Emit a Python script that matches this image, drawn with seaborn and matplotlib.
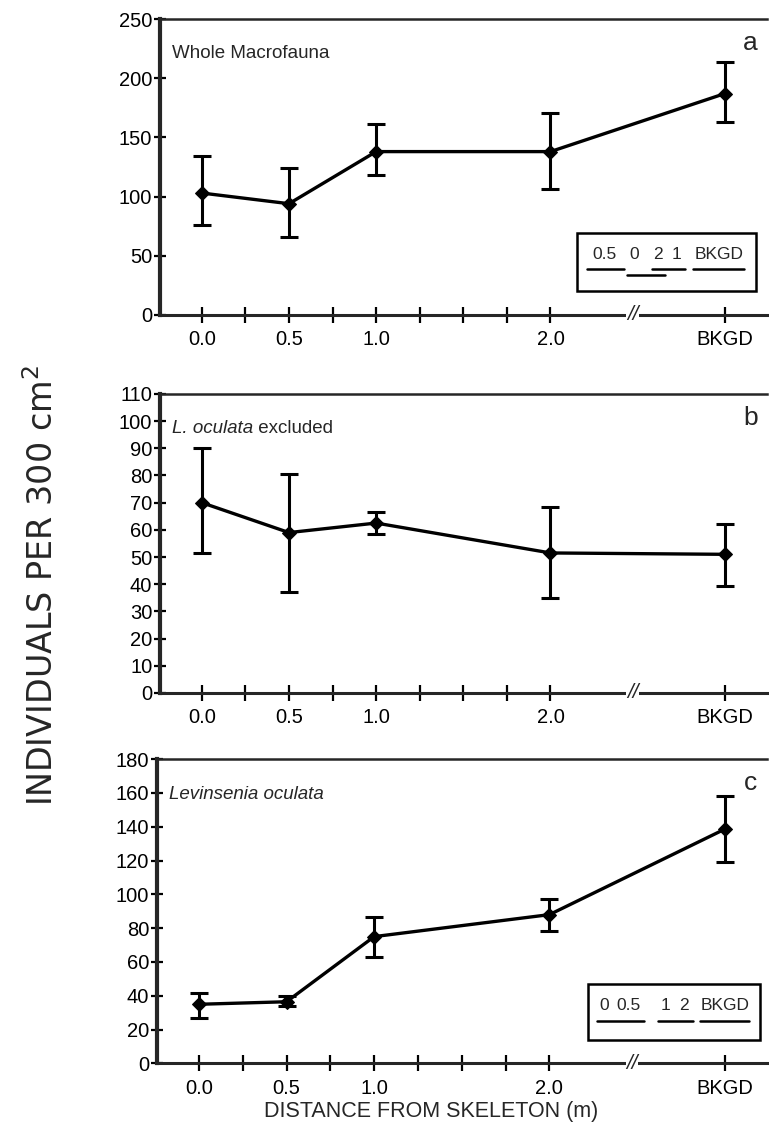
import matplotlib
matplotlib.use("Agg")
import matplotlib.pyplot as plt
import seaborn as sns
import pandas as pd
from matplotlib.patches import Rectangle

# x positions (BKGD placed after an axis break) and labels
x_pos = [0.0, 0.5, 1.0, 2.0, 3.0]
x_labels = ['0.0', '0.5', '1.0', '2.0', 'BKGD']
minor_pos = [0.25, 0.75, 1.25, 1.5, 1.75]

# panel a: whole macrofauna
whole_mean = [103, 94, 138, 138, 187]
whole_upper = [134, 124, 161, 171, 214]
whole_lower = [76, 66, 118, 106, 163]

# panel b: L. oculata excluded
excl_mean = [70, 59, 62.5, 51.5, 51]
excl_upper = [90, 80.5, 66.5, 68.5, 62]
excl_lower = [51.5, 37, 58.5, 35, 39.5]

# panel c: Levinsenia oculata
levin_mean = [35, 36.5, 75, 88, 138.5]
levin_upper = [41.5, 40, 86.5, 97.5, 158]
levin_lower = [27, 34, 63, 78.5, 119]

sns.set_style("ticks")
plt.rcParams['font.family'] = ['Liberation Sans', 'DejaVu Sans']

fig = plt.figure(figsize=(7.69, 11.31), dpi=100)

panels = [
    dict(mean=whole_mean, up=whole_upper, lo=whole_lower, ylim=250, step=50,
         title="Whole Macrofauna", italic=None, letter="a",
         rect=[0.208, 0.7215, 0.789, 0.2617]),
    dict(mean=excl_mean, up=excl_upper, lo=excl_lower, ylim=110, step=10,
         title=" excluded", italic="L. oculata", letter="b",
         rect=[0.208, 0.3873, 0.789, 0.2644]),
    dict(mean=levin_mean, up=levin_upper, lo=levin_lower, ylim=180, step=20,
         title=None, italic="Levinsenia oculata", letter="c",
         rect=[0.204, 0.0597, 0.793, 0.2692]),
]

axes = []
for p in panels:
    ax = fig.add_axes(p['rect'])
    axes.append(ax)
    df = pd.DataFrame({'x': x_pos, 'y': p['mean']})
    yerr = [[m - l for m, l in zip(p['mean'], p['lo'])],
            [u - m for m, u in zip(p['mean'], p['up'])]]
    ax.errorbar(x_pos, p['mean'], yerr=yerr, fmt='none', ecolor='black',
                elinewidth=2.2, capsize=6.5, capthick=2.2, zorder=2)
    sns.lineplot(data=df, x='x', y='y', ax=ax, color='black', linewidth=2.4,
                 marker='D', markersize=7, markeredgecolor='black', zorder=3)

    ax.set_xlim(-0.24, 3.24)
    ax.set_ylim(0, p['ylim'])
    ax.set_yticks(range(0, p['ylim'] + 1, p['step']))
    ax.set_xticks(x_pos)
    ax.set_xticklabels(x_labels)
    ax.set_xticks(minor_pos, minor=True)
    ax.set_xlabel("")
    ax.set_ylabel("")
    ax.tick_params(axis='both', which='both', direction='inout', width=1.6,
                   colors='black', labelsize=14.5)
    ax.tick_params(axis='x', which='both', length=12, pad=5)
    ax.tick_params(axis='y', which='both', length=9, pad=1)

    ax.spines['right'].set_visible(False)
    ax.spines['left'].set_linewidth(3)
    ax.spines['bottom'].set_linewidth(2.2)
    ax.spines['top'].set_linewidth(1.8)

    # axis break mark
    ax.text(2.47, 0, "//", transform=ax.transData, ha='center', va='center',
            fontsize=15, style='italic',
            bbox=dict(facecolor='white', edgecolor='none', pad=0.3))

    # panel titles
    tx, ty = 0.02, 0.885
    if p['italic'] and p['title']:
        t = ax.text(tx, ty, p['italic'], transform=ax.transAxes,
                    fontsize=13.5, style='italic', va='center')
        fig.canvas.draw()
        bb = t.get_window_extent().transformed(ax.transAxes.inverted())
        ax.text(bb.x1, ty, p['title'], transform=ax.transAxes,
                fontsize=13.5, va='center')
    elif p['italic']:
        ax.text(tx, ty, p['italic'], transform=ax.transAxes,
                fontsize=13.5, style='italic', va='center')
    else:
        ax.text(tx, ty, p['title'], transform=ax.transAxes,
                fontsize=13.5, va='center')
    ax.text(0.985, 0.92, p['letter'], transform=ax.transAxes,
            fontsize=19, ha='right', va='center')

# multiple-comparison insets
ax = axes[0]
ax.add_patch(Rectangle((2.15, 20), 1.03, 49, fill=False, edgecolor='black',
                       linewidth=1.8, zorder=4))
for lab, xc in [('0.5', 2.31), ('0', 2.48), ('2', 2.615), ('1', 2.725), ('BKGD', 2.965)]:
    ax.text(xc, 51, lab, ha='center', va='center', fontsize=12.5)
for x0, x1, yy in [(2.21, 2.42, 38.5), (2.58, 2.77, 38.5), (2.82, 3.11, 38.5), (2.44, 2.655, 33.5)]:
    ax.plot([x0, x1], [yy, yy], color='black', linewidth=1.8)

ax = axes[2]
ax.add_patch(Rectangle((2.22, 14), 0.98, 33, fill=False, edgecolor='black',
                       linewidth=1.8, zorder=4))
for lab, xc in [('0', 2.31), ('0.5', 2.45), ('1', 2.66), ('2', 2.77), ('BKGD', 3.0)]:
    ax.text(xc, 34, lab, ha='center', va='center', fontsize=12.5)
for x0, x1, yy in [(2.27, 2.54, 25), (2.62, 2.82, 25), (2.86, 3.14, 25)]:
    ax.plot([x0, x1], [yy, yy], color='black', linewidth=1.8)

fig.text(0.055, 0.482, "INDIVIDUALS PER 300 cm$^2$", rotation=90, ha='center',
         va='center', fontsize=24, family=['DejaVu Sans'])
fig.text(0.56, 0.008, "DISTANCE FROM SKELETON (m)", ha='center', va='bottom',
         fontsize=15.5)

fig.savefig("out.png", dpi=100)
